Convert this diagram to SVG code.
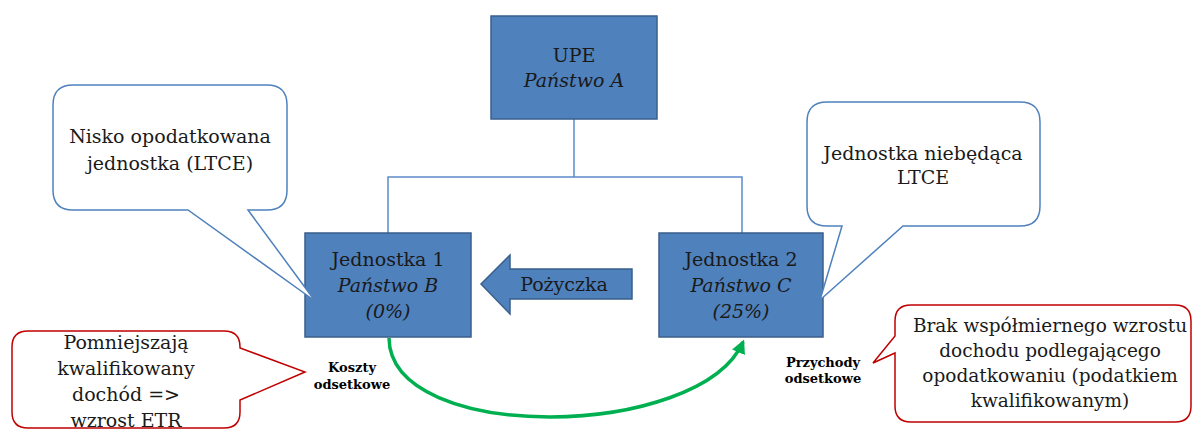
<svg xmlns="http://www.w3.org/2000/svg" width="1193" height="430" viewBox="0 0 1193 430">
<style>
.box{fill:#4F81BD;stroke:#3A5F8B;stroke-width:1.5}
.t{font-family:"DejaVu Serif","Liberation Serif",serif;fill:#1a1a1a;text-anchor:middle}
.m{font-size:19px}
.i{font-style:italic}
.r{font-size:18.5px}
.s{font-size:13px;font-weight:bold;fill:#000}
.bc{fill:#fff;stroke:#4F81BD;stroke-width:1.5;stroke-linejoin:miter}
.rc{fill:#fff;stroke:#C00000;stroke-width:1.5;stroke-linejoin:miter}
.ln{fill:none;stroke:#5B8BC9;stroke-width:1.5}
</style>
<defs>
<marker id="ah" viewBox="0 0 10 10" refX="8" refY="5" markerWidth="4" markerHeight="4" orient="auto">
<path d="M0,0 L10,5 L0,10 z" fill="#00B050"/>
</marker>
</defs>
<g id="connectors">
<path class="ln" d="M574,119 V177 M388,233 V177 H742 V233"/>
<path d="M389,338 C390,445 700,440 743,342" fill="none" stroke="#00B050" stroke-width="3.5" marker-end="url(#ah)"/>
</g>
<g id="upe">
<rect class="box" x="491" y="16" width="166" height="103"/>
<text class="t m" x="574" y="62">UPE</text>
<text class="t m i" x="574" y="87">Państwo A</text>
</g>
<g id="jednostka1">
<rect class="box" x="305" y="233" width="166" height="104"/>
<text class="t m" x="388" y="266">Jednostka 1</text>
<text class="t m i" x="388" y="292">Państwo B</text>
<text class="t m i" x="388" y="318">(0%)</text>
</g>
<g id="jednostka2">
<rect class="box" x="659" y="233" width="164" height="104"/>
<text class="t m" x="741" y="266">Jednostka 2</text>
<text class="t m i" x="741" y="292">Państwo C</text>
<text class="t m i" x="741" y="318">(25%)</text>
</g>
<g id="pozyczka">
<path class="box" d="M481,284 L510,255 V269 H632 V299 H510 V314 Z"/>
<text class="t m" x="564" y="291">Pożyczka</text>
</g>
<g id="callout-ltce">
<path class="bc" d="M73,85 H267 Q287,85 287,105 V190 Q287,210 267,210 H248 L315,301 L188,210 H73 Q53,210 53,190 V105 Q53,85 73,85 Z"/>
<text class="t m" x="170" y="143">Nisko opodatkowana</text>
<text class="t m" x="170" y="170">jednostka (LTCE)</text>
</g>
<g id="callout-nonltce">
<path class="bc" d="M827,102 H1020 Q1040,102 1040,122 V206 Q1040,226 1020,226 H903 L820,300 L842,226 H827 Q807,226 807,206 V122 Q807,102 827,102 Z"/>
<text class="t m" x="923" y="160">Jednostka niebędąca</text>
<text class="t m" x="923" y="184">LTCE</text>
</g>
<g id="callout-etr">
<path class="rc" d="M28,331 H224 Q240,331 240,347 V348 L305,372 L240,400 V412 Q240,428 224,428 H28 Q12,428 12,412 V347 Q12,331 28,331 Z"/>
<text class="t" x="126" y="349" style="font-size:19px">Pomniejszają</text>
<text class="t" x="126" y="375" style="font-size:19px">kwalifikowany</text>
<text class="t" x="126" y="401" style="font-size:19px">dochód =&gt;</text>
<text class="t" x="126" y="427" style="font-size:19px">wzrost ETR</text>
</g>
<g id="callout-brak">
<path class="rc" d="M911,305 H1175 Q1191,305 1191,321 V406 Q1191,422 1175,422 H911 Q895,422 895,406 V353 L873,363 L895,336 V321 Q895,305 911,305 Z"/>
<text class="t r" x="1050" y="332">Brak współmiernego wzrostu</text>
<text class="t r" x="1050" y="357">dochodu podlegającego</text>
<text class="t r" x="1050" y="382">opodatkowaniu (podatkiem</text>
<text class="t r" x="1050" y="407">kwalifikowanym)</text>
</g>
<g id="label-koszty">
<text class="t s" x="352" y="372">Koszty</text>
<text class="t s" x="352" y="389">odsetkowe</text>
</g>
<g id="label-przychody">
<text class="t s" x="823" y="367">Przychody</text>
<text class="t s" x="823" y="383">odsetkowe</text>
</g>
</svg>
